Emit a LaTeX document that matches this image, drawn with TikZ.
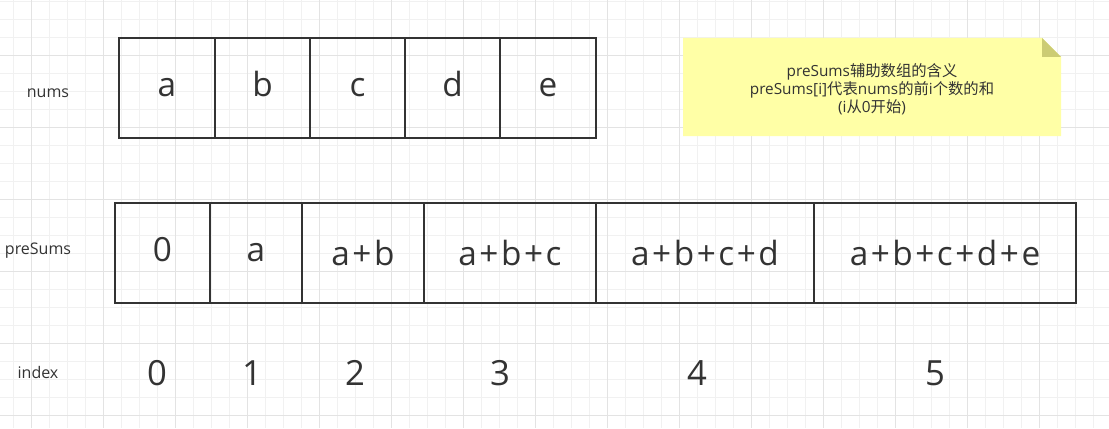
\documentclass[tikz,border=0pt]{standalone}
\usepackage{fontspec}
\setmainfont{Open Sans}
\newfontfamily\cjk{Noto Sans CJK SC}
\usetikzlibrary{positioning}
\definecolor{inkgray}{HTML}{333333}
\definecolor{minorgrid}{HTML}{F1F1F1}
\definecolor{majorgrid}{HTML}{E3E3E3}
\definecolor{notefill}{HTML}{FFFFA6}
\definecolor{foldfill}{HTML}{CCCC74}
\newcommand{\pl}{\kern1.9pt+\kern1.9pt}

\begin{document}
\begin{tikzpicture}[x=0.75pt,y=-0.75pt,
    cell/.style={draw=inkgray, line width=1.5pt, minimum height=75pt, inner sep=0pt,
        text=inkgray, font=\fontsize{25}{30}\selectfont, text depth=0pt},
    numcell/.style={cell, text height=13pt},
    rowlabel/.style={text=inkgray, font=\fontsize{12}{14}\selectfont, inner sep=0pt, anchor=base},
    idx/.style={text=inkgray, font=\fontsize{26}{30}\selectfont, inner sep=0pt, anchor=base}]
\useasboundingbox (0,0) rectangle (1109,428);
\fill[white] (0,0) rectangle (1109,428);

% Background grid
\foreach \i in {0,...,61}
    \draw[minorgrid, line width=0.75pt] ({13.3+18*\i},0) -- ({13.3+18*\i},428);
\foreach \i in {0,...,23}
    \draw[minorgrid, line width=0.75pt] (0,{1.3+18*\i}) -- (1109,{1.3+18*\i});
\foreach \i in {0,...,14}
    \draw[majorgrid, line width=0.75pt] ({31.3+72*\i},0) -- ({31.3+72*\i},428);
\foreach \i in {0,...,5}
    \draw[majorgrid, line width=0.75pt] (0,{55.3+72*\i}) -- (1109,{55.3+72*\i});

% Row labels
\node[rowlabel] (numslabel) at (48,97.3) {nums};
\node[rowlabel] (sumslabel) at (38,254.5) {preSums};
\node[rowlabel] (indexlabel) at (38,378.3) {index};

% nums array
\foreach \l/\r/\t [count=\i] in {119/215/a, 215/310/b, 310/405/c, 405/500/d, 500/596/e} {
    \pgfmathsetmacro\w{(\r-\l)*0.75}
    \node[numcell, minimum width=\w pt] (num\i) at ({(\l+\r)/2},88) {\t};
}

% preSums array
\foreach \l/\r/\h/\t [count=\i from 0] in {115/210/12.75/0, 210/302/12.75/a, 302/424/18/a\pl b,
        424/596/18/a\pl b\pl c, 596/814/18/a\pl b\pl c\pl d, 814/1076/18/a\pl b\pl c\pl d\pl e} {
    \pgfmathsetmacro\w{(\r-\l)*0.75}
    \node[cell, minimum width=\w pt, text height=\h pt] (sum\i) at ({(\l+\r)/2},253) {\t};
}

% Index numbers
\foreach \x/\n in {157/0, 252/1, 355/2, 500/3, 697/4, 935/5}
    \node[idx] (idx\n) at (\x,385) {\n};

% Note
\fill[notefill] (683,38) -- (1042,38) -- (1061,57) -- (1061,136) -- (683,136) -- cycle;
\fill[foldfill] (1042,38) -- (1042,57) -- (1061,57) -- cycle;
\node[align=center, text=inkgray, font=\fontsize{11.5}{13.5}\selectfont, inner sep=0pt] (note) at (872,89) {
preSums{\cjk 辅助数组的含义}\\
preSums[i]{\cjk 代表}nums{\cjk 的前}i{\cjk 个数的和}\\
(i{\cjk 从}0{\cjk 开始})
};

\end{tikzpicture}
\end{document}
